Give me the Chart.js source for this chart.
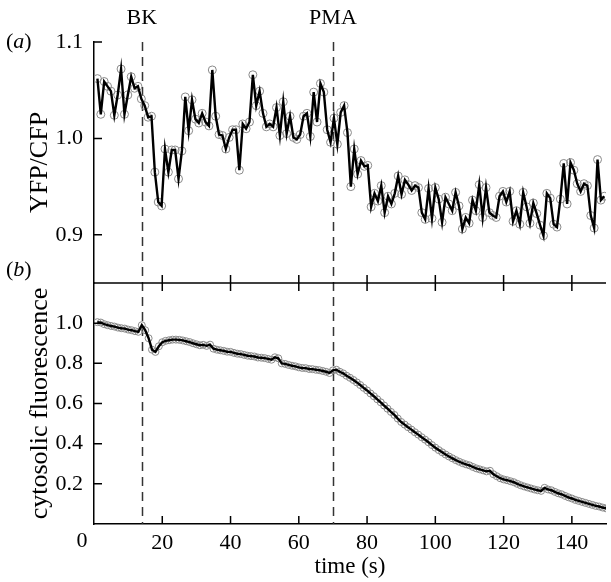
<!DOCTYPE html>
<html><head><meta charset="utf-8">
<script src="https://cdn.jsdelivr.net/npm/chart.js@4.4.1/dist/chart.umd.min.js"></script>
<style>html,body{margin:0;padding:0;background:#fff;}canvas{display:block}</style>
</head><body>
<canvas id="c" width="611" height="582"></canvas>
<script>
// ---- data ----
const ratioValues = [
 1.062,1.025,1.059,1.054,1.049,1.024,1.045,1.072,1.025,1.045,
 1.064,1.052,1.054,1.041,1.034,1.022,1.023,0.965,0.934,0.930,
 0.989,0.965,0.988,0.988,0.958,0.987,1.043,1.008,1.040,1.020,
 1.016,1.026,1.017,1.013,1.071,1.023,1.004,1.003,0.989,1.001,
 1.009,1.009,0.967,1.015,1.010,1.017,1.066,1.034,1.049,1.026,
 1.012,1.015,1.012,1.032,1.003,1.038,1.005,1.023,1.001,0.999,
 1.004,1.023,1.026,1.002,1.048,1.017,1.057,1.048,1.009,0.996,
 1.021,0.994,1.027,1.034,1.006,0.950,0.989,0.963,0.977,0.971,
 0.972,0.929,0.943,0.935,0.951,0.923,0.940,0.932,0.943,0.961,
 0.942,0.957,0.952,0.946,0.951,0.949,0.923,0.916,0.948,0.917,
 0.949,0.937,0.913,0.939,0.932,0.925,0.944,0.930,0.906,0.918,
 0.912,0.936,0.925,0.952,0.918,0.949,0.923,0.920,0.918,0.940,
 0.945,0.934,0.945,0.914,0.925,0.911,0.944,0.929,0.912,0.933,
 0.922,0.910,0.899,0.943,0.938,0.911,0.908,0.937,0.974,0.932,
 0.975,0.967,0.953,0.945,0.953,0.951,0.920,0.907,0.978,0.936,
 0.940
];
const ratioStart = 1.0;   // s, first sample
const ratioStep = 0.99;   // s between samples

const cytoValues = [
 1.005,1.003,0.995,0.990,0.986,0.983,0.978,0.975,0.973,0.968,
 0.965,0.960,0.957,0.990,0.965,0.925,0.868,0.857,0.885,0.905,
 0.912,0.915,0.918,0.918,0.917,0.914,0.910,0.906,0.900,0.895,
 0.890,0.892,0.887,0.893,0.873,0.868,0.865,0.862,0.858,0.857,
 0.852,0.848,0.846,0.842,0.838,0.836,0.834,0.829,0.828,0.826,
 0.822,0.818,0.830,0.825,0.800,0.797,0.792,0.788,0.785,0.780,
 0.777,0.776,0.772,0.771,0.768,0.766,0.762,0.758,0.752,0.765,
 0.768,0.758,0.750,0.738,0.728,0.717,0.705,0.692,0.678,0.665,
 0.650,0.636,0.621,0.606,0.590,0.574,0.558,0.543,0.525,0.508,
 0.495,0.482,0.470,0.457,0.445,0.432,0.420,0.407,0.393,0.380,
 0.368,0.357,0.346,0.336,0.327,0.318,0.310,0.303,0.297,0.292,
 0.284,0.277,0.272,0.267,0.262,0.265,0.248,0.238,0.228,0.222,
 0.218,0.213,0.208,0.200,0.193,0.187,0.182,0.177,0.172,0.168,
 0.165,0.180,0.172,0.168,0.160,0.153,0.148,0.140,0.133,0.127,
 0.120,0.115,0.110,0.105,0.100,0.095,0.090,0.087,0.082,0.078
];
const cytoStart = 1;
const cytoStep = 1;

const xTickValues = [0,20,40,60,80,100,120,140];
const ratioTickValues = [0.9,1.0,1.1];
const cytoTickValues = [0.2,0.4,0.6,0.8,1.0];
const stimulusLabels = ['BK','PMA'];
const stimulusTimes = [14,70];

// ---- build ----
const ratioPts = ratioValues.map((v,i)=>({x: ratioStart + i*ratioStep, y: v}));
const cytoPts = cytoValues.map((v,i)=>({x: cytoStart + i*cytoStep, y: v}));

const SERIF = "'Liberation Serif','Times New Roman',serif";
const FS = 22;
const TITLE_FS = 26;

const decor = {
  id: 'decor',
  beforeDatasetsDraw(chart){
    const ctx = chart.ctx, a = chart.chartArea, x = chart.scales.x;
    ctx.save();
    ctx.strokeStyle = '#333';
    ctx.lineWidth = 1.5;
    ctx.setLineDash([9,6]);
    stimulusTimes.forEach(t=>{
      const px = Math.round(x.getPixelForValue(t)) + 0.5;
      ctx.beginPath(); ctx.moveTo(px, a.top); ctx.lineTo(px, a.bottom); ctx.stroke();
    });
    ctx.restore();
  },
  afterDraw(chart){
    const ctx = chart.ctx, a = chart.chartArea, x = chart.scales.x;
    const yT = chart.scales.yTop, yB = chart.scales.yBot;
    ctx.save();
    ctx.strokeStyle = '#000';
    ctx.lineWidth = 1.5;
    const sep = yB.top;
    ctx.beginPath(); ctx.moveTo(a.left, sep); ctx.lineTo(a.right, sep); ctx.stroke();
    ctx.beginPath();
    ratioTickValues.forEach(v=>{ const p = yT.getPixelForValue(v); ctx.moveTo(a.left, p); ctx.lineTo(a.left+8, p); });
    cytoTickValues.forEach(v=>{ const p = yB.getPixelForValue(v); ctx.moveTo(a.left, p); ctx.lineTo(a.left+8, p); });
    xTickValues.forEach(v=>{
      if (v === 0) return;
      const p = x.getPixelForValue(v);
      ctx.moveTo(p, a.bottom); ctx.lineTo(p, a.bottom-8);
      ctx.moveTo(p, sep-8); ctx.lineTo(p, sep+8);
    });
    ctx.stroke();
    ctx.fillStyle = '#000';
    ctx.textBaseline = 'middle';
    ctx.font = FS + 'px ' + SERIF;
    ctx.textAlign = 'center';
    stimulusTimes.forEach((t,i)=>{ ctx.fillText(stimulusLabels[i], x.getPixelForValue(t), 18); });
    ctx.fillText('0', a.left - 12, 541);
    ctx.font = '23px ' + SERIF;
    ctx.fillText('time (s)', (a.left + a.right)/2, 567);
    const letter = (ch, px, py)=>{
      ctx.textAlign = 'left';
      ctx.font = FS + 'px ' + SERIF;
      ctx.fillText('(', px, py);
      let w = ctx.measureText('(').width;
      ctx.font = 'italic ' + FS + 'px ' + SERIF;
      ctx.fillText(ch, px + w, py);
      w += ctx.measureText(ch).width;
      ctx.font = FS + 'px ' + SERIF;
      ctx.fillText(')', px + w, py);
    };
    letter('a', 6, 42);
    letter('b', 6, 270);
    ctx.font = TITLE_FS + 'px ' + SERIF;
    ctx.textAlign = 'center';
    const vtitle = (txt, cx, cy)=>{ ctx.save(); ctx.translate(cx, cy); ctx.rotate(-Math.PI/2); ctx.fillText(txt, 0, 0); ctx.restore(); };
    vtitle('YFP/CFP', 40, (yT.top + yT.bottom)/2);
    vtitle('cytosolic fluorescence', 40, (yB.top + yB.bottom)/2);
    ctx.restore();
  }
};

const tickFont = {family: SERIF, size: FS};
new Chart(document.getElementById('c'), {
  type: 'line',
  data: { datasets: [
    { data: ratioPts, yAxisID: 'yTop', showLine: false, pointRadius: 4, pointBorderColor: '#8a8a8a', pointBackgroundColor: 'rgba(255,255,255,0)', pointBorderWidth: 1, order: 3 },
    { data: ratioPts, yAxisID: 'yTop', borderColor: '#000', borderWidth: 2.4, pointRadius: 0, tension: 0, order: 1 },
    { data: cytoPts, yAxisID: 'yBot', showLine: false, pointRadius: 3.5, pointBorderColor: '#8a8a8a', pointBackgroundColor: 'rgba(255,255,255,0)', pointBorderWidth: 1, order: 4 },
    { data: cytoPts, yAxisID: 'yBot', borderColor: '#000', borderWidth: 2.4, pointRadius: 0, tension: 0, order: 2 }
  ]},
  options: {
    responsive: false, animation: false, devicePixelRatio: 1,
    layout: { padding: { top: 42, right: 1, left: 0, bottom: 0 } },
    plugins: { legend: {display:false}, tooltip: {enabled:false} },
    scales: {
      x: { type: 'linear', min: 0, max: 150, position: 'bottom',
        grid: { display: false, drawTicks: false },
        border: { display: true, color: '#000', width: 1.5 },
        afterBuildTicks: s => { s.ticks = xTickValues.map(v=>({value:v})); },
        afterFit: s => { s.height = 58; },
        ticks: { font: tickFont, color: '#000', padding: 6, maxRotation: 0, autoSkip: false,
          callback: v => v === 0 ? '' : String(v) } },
      yBot: { type: 'linear', min: 0, max: 1.2, position: 'left', stack: 'panels', stackWeight: 1,
        grid: { display: false, drawTicks: false },
        border: { display: true, color: '#000', width: 1.5 },
        afterBuildTicks: s => { s.ticks = cytoTickValues.map(v=>({value:v})); },
        afterFit: s => { s.width = 94; },
        ticks: { font: tickFont, color: '#000', padding: 11, callback: v => v.toFixed(1) } },
      yTop: { type: 'linear', min: 0.85, max: 1.1, position: 'left', stack: 'panels', stackWeight: 1,
        grid: { display: false, drawTicks: false },
        border: { display: true, color: '#000', width: 1.5 },
        afterBuildTicks: s => { s.ticks = ratioTickValues.map(v=>({value:v})); },
        afterFit: s => { s.width = 94; },
        ticks: { font: tickFont, color: '#000', padding: 11, callback: v => v.toFixed(1) } }
    }
  },
  plugins: [decor]
});
</script>
</body></html>
